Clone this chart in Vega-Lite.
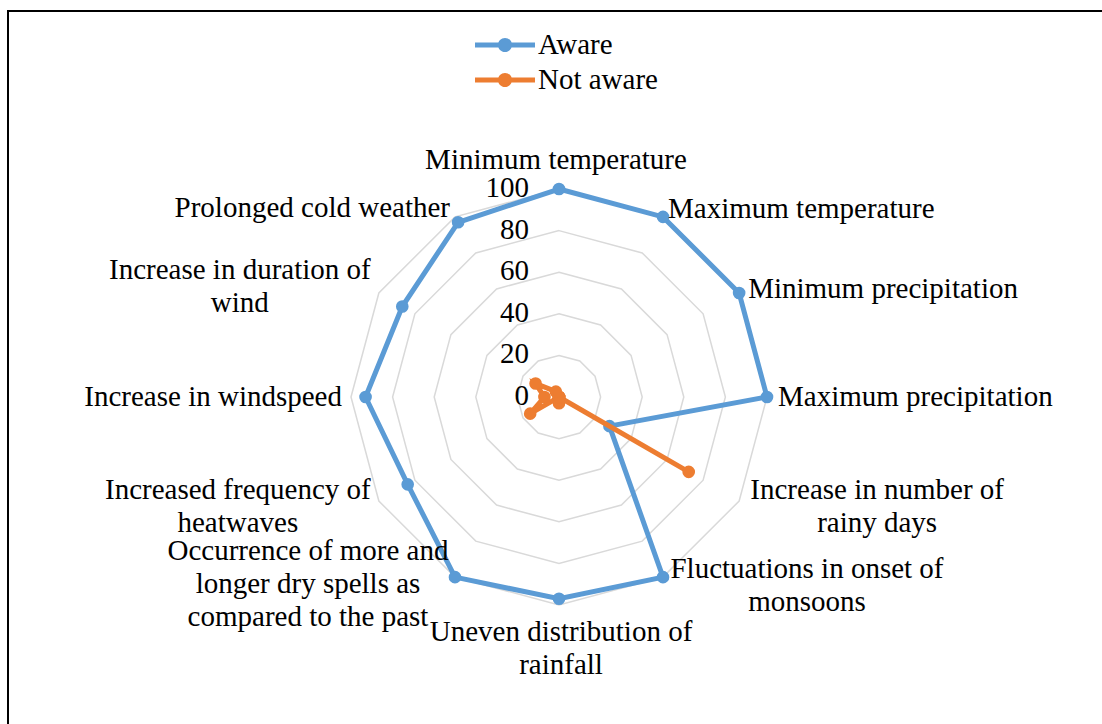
{
  "$schema": "https://vega.github.io/schema/vega-lite/v6.json",
  "width": 1098,
  "height": 717,
  "padding": {"left": 8, "top": 11, "right": -4, "bottom": -4},
  "autosize": {"type": "none"},
  "background": "white",
  "config": {"view": {"stroke": "black", "strokeWidth": 2}, "font": "Liberation Serif, Times New Roman, DejaVu Serif, serif"},
  "datasets": {
    "series": [
      {"category": "Minimum temperature", "idx": 0, "series": "Aware", "value": 100},
      {"category": "Maximum temperature", "idx": 1, "series": "Aware", "value": 100},
      {"category": "Minimum precipitation", "idx": 2, "series": "Aware", "value": 100},
      {"category": "Maximum precipitation", "idx": 3, "series": "Aware", "value": 100},
      {"category": "Increase in number of rainy days", "idx": 4, "series": "Aware", "value": 28},
      {"category": "Fluctuations in onset of monsoons", "idx": 5, "series": "Aware", "value": 100},
      {"category": "Uneven distribution of rainfall", "idx": 6, "series": "Aware", "value": 97},
      {"category": "Occurrence of more and longer dry spells as compared to the past", "idx": 7, "series": "Aware", "value": 100},
      {"category": "Increased frequency of heatwaves", "idx": 8, "series": "Aware", "value": 84},
      {"category": "Increase in windspeed", "idx": 9, "series": "Aware", "value": 93},
      {"category": "Increase in duration of wind", "idx": 10, "series": "Aware", "value": 87},
      {"category": "Prolonged cold weather", "idx": 11, "series": "Aware", "value": 97},
      {"category": "Minimum temperature", "idx": 0, "series": "Not aware", "value": 0},
      {"category": "Maximum temperature", "idx": 1, "series": "Not aware", "value": 0},
      {"category": "Minimum precipitation", "idx": 2, "series": "Not aware", "value": 0},
      {"category": "Maximum precipitation", "idx": 3, "series": "Not aware", "value": 0},
      {"category": "Increase in number of rainy days", "idx": 4, "series": "Not aware", "value": 72},
      {"category": "Fluctuations in onset of monsoons", "idx": 5, "series": "Not aware", "value": 0},
      {"category": "Uneven distribution of rainfall", "idx": 6, "series": "Not aware", "value": 3},
      {"category": "Occurrence of more and longer dry spells as compared to the past", "idx": 7, "series": "Not aware", "value": 0},
      {"category": "Increased frequency of heatwaves", "idx": 8, "series": "Not aware", "value": 16},
      {"category": "Increase in windspeed", "idx": 9, "series": "Not aware", "value": 7},
      {"category": "Increase in duration of wind", "idx": 10, "series": "Not aware", "value": 13},
      {"category": "Prolonged cold weather", "idx": 11, "series": "Not aware", "value": 3}
    ],
    "cats": [
      {"idx": 0, "label": "Minimum temperature", "rings": [20, 40, 60, 80, 100]},
      {"idx": 1, "label": "Maximum temperature", "rings": [20, 40, 60, 80, 100]},
      {"idx": 2, "label": "Minimum precipitation", "rings": [20, 40, 60, 80, 100]},
      {"idx": 3, "label": "Maximum precipitation", "rings": [20, 40, 60, 80, 100]},
      {"idx": 4, "label": "Increase in number of\nrainy days", "rings": [20, 40, 60, 80, 100]},
      {"idx": 5, "label": "Fluctuations in onset of\nmonsoons", "rings": [20, 40, 60, 80, 100]},
      {"idx": 6, "label": "Uneven distribution of\nrainfall", "rings": [20, 40, 60, 80, 100]},
      {"idx": 7, "label": "Occurrence of more and\nlonger dry spells as\ncompared to the past", "rings": [20, 40, 60, 80, 100]},
      {"idx": 8, "label": "Increased frequency of\nheatwaves", "rings": [20, 40, 60, 80, 100]},
      {"idx": 9, "label": "Increase in windspeed", "rings": [20, 40, 60, 80, 100]},
      {"idx": 10, "label": "Increase in duration of\nwind", "rings": [20, 40, 60, 80, 100]},
      {"idx": 11, "label": "Prolonged cold weather", "rings": [20, 40, 60, 80, 100]}
    ],
    "ticks": [
      {"level": 0}, {"level": 20}, {"level": 40}, {"level": 60}, {"level": 80}, {"level": 100}
    ]
  },
  "layer": [
    {
      "data": {"name": "cats"},
      "transform": [
        {"flatten": ["rings"], "as": ["ring"]},
        {"calculate": "datum.ring*sin(datum.idx*PI/6)", "as": "gx"},
        {"calculate": "datum.ring*cos(datum.idx*PI/6)", "as": "gy"}
      ],
      "mark": {"type": "line", "interpolate": "linear-closed", "stroke": "#d9d9d9", "strokeWidth": 1.5},
      "encoding": {
        "x": {"field": "gx", "type": "quantitative", "axis": null, "scale": {"domain": [-264.9, 262.98], "nice": false, "zero": false}},
        "y": {"field": "gy", "type": "quantitative", "axis": null, "scale": {"domain": [-159.13, 185.58], "nice": false, "zero": false}},
        "detail": {"field": "ring", "type": "nominal"},
        "order": {"field": "idx", "type": "quantitative"}
      }
    },
    {
      "data": {"name": "ticks"},
      "mark": {"type": "text", "align": "right", "baseline": "middle", "dx": -30, "dy": -1, "fontSize": 29, "font": "Liberation Serif, Times New Roman, DejaVu Serif, serif", "color": "black"},
      "encoding": {
        "x": {"datum": 0, "type": "quantitative", "scale": {"domain": [-264.9, 262.98], "nice": false, "zero": false}},
        "y": {"field": "level", "type": "quantitative", "scale": {"domain": [-159.13, 185.58], "nice": false, "zero": false}},
        "text": {"field": "level", "type": "quantitative"}
      }
    },
    {
      "data": {"name": "series"},
      "transform": [
        {"filter": "datum.series == 'Aware'"},
        {"calculate": "datum.value*sin(datum.idx*PI/6)", "as": "px"},
        {"calculate": "datum.value*cos(datum.idx*PI/6)", "as": "py"}
      ],
      "layer": [
        {
          "mark": {"type": "line", "interpolate": "linear-closed", "stroke": "#5B9BD5", "strokeWidth": 5},
          "encoding": {
            "x": {"field": "px", "type": "quantitative", "scale": {"domain": [-264.9, 262.98], "nice": false, "zero": false}},
            "y": {"field": "py", "type": "quantitative", "scale": {"domain": [-159.13, 185.58], "nice": false, "zero": false}},
            "order": {"field": "idx", "type": "quantitative"}
          }
        },
        {
          "mark": {"type": "point", "filled": true, "opacity": 1, "size": 160, "shape": "circle"},
          "encoding": {
            "x": {"field": "px", "type": "quantitative", "scale": {"domain": [-264.9, 262.98], "nice": false, "zero": false}},
            "y": {"field": "py", "type": "quantitative", "scale": {"domain": [-159.13, 185.58], "nice": false, "zero": false}},
            "color": {
              "field": "series", "type": "nominal",
              "scale": {"domain": ["Aware", "Not aware"], "range": ["#5B9BD5", "#ED7D31"]},
              "legend": {"orient": "none", "legendX": 482, "legendY": 19, "title": null, "padding": 0, "symbolType": "M-2,-0.17H-0.3V0.17H-2Z M0.3,-0.17H2V0.17H0.3Z M0.47,0A0.47,0.47,0,1,1,-0.47,0A0.47,0.47,0,1,1,0.47,0Z", "symbolSize": 900, "symbolStrokeWidth": 0, "symbolOpacity": 1, "labelFont": "Liberation Serif, Times New Roman, DejaVu Serif, serif", "labelFontSize": 29, "labelColor": "black", "labelOffset": 18, "rowPadding": 5}
            }
          }
        }
      ]
    },
    {
      "data": {"name": "series"},
      "transform": [
        {"filter": "datum.series == 'Not aware'"},
        {"calculate": "datum.value*sin(datum.idx*PI/6)", "as": "px"},
        {"calculate": "datum.value*cos(datum.idx*PI/6)", "as": "py"}
      ],
      "layer": [
        {
          "mark": {"type": "line", "interpolate": "linear-closed", "stroke": "#ED7D31", "strokeWidth": 5},
          "encoding": {
            "x": {"field": "px", "type": "quantitative", "scale": {"domain": [-264.9, 262.98], "nice": false, "zero": false}},
            "y": {"field": "py", "type": "quantitative", "scale": {"domain": [-159.13, 185.58], "nice": false, "zero": false}},
            "order": {"field": "idx", "type": "quantitative"}
          }
        },
        {
          "mark": {"type": "point", "filled": true, "opacity": 1, "size": 160, "shape": "circle"},
          "encoding": {
            "x": {"field": "px", "type": "quantitative", "scale": {"domain": [-264.9, 262.98], "nice": false, "zero": false}},
            "y": {"field": "py", "type": "quantitative", "scale": {"domain": [-159.13, 185.58], "nice": false, "zero": false}},
            "color": {
              "field": "series", "type": "nominal",
              "scale": {"domain": ["Aware", "Not aware"], "range": ["#5B9BD5", "#ED7D31"]},
              "legend": {"orient": "none", "legendX": 482, "legendY": 19, "title": null, "padding": 0, "symbolType": "M-2,-0.17H-0.3V0.17H-2Z M0.3,-0.17H2V0.17H0.3Z M0.47,0A0.47,0.47,0,1,1,-0.47,0A0.47,0.47,0,1,1,0.47,0Z", "symbolSize": 900, "symbolStrokeWidth": 0, "symbolOpacity": 1, "labelFont": "Liberation Serif, Times New Roman, DejaVu Serif, serif", "labelFontSize": 29, "labelColor": "black", "labelOffset": 18, "rowPadding": 5}
            }
          }
        }
      ]
    },
    {
      "data": {"name": "cats"},
      "transform": [
        {"calculate": "100*sin(datum.idx*PI/6)", "as": "lx"},
        {"calculate": "100*cos(datum.idx*PI/6)", "as": "ly"}
      ],
      "encoding": {
        "x": {"field": "lx", "type": "quantitative", "scale": {"domain": [-264.9, 262.98], "nice": false, "zero": false}},
        "y": {"field": "ly", "type": "quantitative", "scale": {"domain": [-159.13, 185.58], "nice": false, "zero": false}},
        "text": {"field": "label", "type": "nominal"}
      },
      "layer": [
        {"transform": [{"filter": "datum.idx == 0"}], "mark": {"type": "text", "align": "center", "baseline": "middle", "dx": -3, "dy": -29, "fontSize": 29, "font": "Liberation Serif, Times New Roman, DejaVu Serif, serif", "color": "black", "lineBreak": "\n", "lineHeight": 33}},
        {"transform": [{"filter": "datum.idx == 1"}], "mark": {"type": "text", "align": "left", "baseline": "middle", "dx": 5, "dy": -8, "fontSize": 29, "font": "Liberation Serif, Times New Roman, DejaVu Serif, serif", "color": "black", "lineBreak": "\n", "lineHeight": 33}},
        {"transform": [{"filter": "datum.idx == 2"}], "mark": {"type": "text", "align": "left", "baseline": "middle", "dx": 9, "dy": -4, "fontSize": 29, "font": "Liberation Serif, Times New Roman, DejaVu Serif, serif", "color": "black", "lineBreak": "\n", "lineHeight": 33}},
        {"transform": [{"filter": "datum.idx == 3"}], "mark": {"type": "text", "align": "left", "baseline": "middle", "dx": 11, "dy": 0, "fontSize": 29, "font": "Liberation Serif, Times New Roman, DejaVu Serif, serif", "color": "black", "lineBreak": "\n", "lineHeight": 33}},
        {"transform": [{"filter": "datum.idx == 4"}], "mark": {"type": "text", "align": "center", "baseline": "middle", "dx": 138, "dy": -11, "fontSize": 29, "font": "Liberation Serif, Times New Roman, DejaVu Serif, serif", "color": "black", "lineBreak": "\n", "lineHeight": 33}},
        {"transform": [{"filter": "datum.idx == 5"}], "mark": {"type": "text", "align": "center", "baseline": "middle", "dx": 144, "dy": -8, "fontSize": 29, "font": "Liberation Serif, Times New Roman, DejaVu Serif, serif", "color": "black", "lineBreak": "\n", "lineHeight": 33}},
        {"transform": [{"filter": "datum.idx == 6"}], "mark": {"type": "text", "align": "center", "baseline": "middle", "dx": 2, "dy": 27, "fontSize": 29, "font": "Liberation Serif, Times New Roman, DejaVu Serif, serif", "color": "black", "lineBreak": "\n", "lineHeight": 33}},
        {"transform": [{"filter": "datum.idx == 7"}], "mark": {"type": "text", "align": "center", "baseline": "middle", "dx": -147, "dy": -26, "fontSize": 29, "font": "Liberation Serif, Times New Roman, DejaVu Serif, serif", "color": "black", "lineBreak": "\n", "lineHeight": 33}},
        {"transform": [{"filter": "datum.idx == 8"}], "mark": {"type": "text", "align": "center", "baseline": "middle", "dx": -141, "dy": -11, "fontSize": 29, "font": "Liberation Serif, Times New Roman, DejaVu Serif, serif", "color": "black", "lineBreak": "\n", "lineHeight": 33}},
        {"transform": [{"filter": "datum.idx == 9"}], "mark": {"type": "text", "align": "right", "baseline": "middle", "dx": -9, "dy": 0, "fontSize": 29, "font": "Liberation Serif, Times New Roman, DejaVu Serif, serif", "color": "black", "lineBreak": "\n", "lineHeight": 33}},
        {"transform": [{"filter": "datum.idx == 10"}], "mark": {"type": "text", "align": "center", "baseline": "middle", "dx": -139, "dy": -23, "fontSize": 29, "font": "Liberation Serif, Times New Roman, DejaVu Serif, serif", "color": "black", "lineBreak": "\n", "lineHeight": 33}},
        {"transform": [{"filter": "datum.idx == 11"}], "mark": {"type": "text", "align": "right", "baseline": "middle", "dx": -5, "dy": -9, "fontSize": 29, "font": "Liberation Serif, Times New Roman, DejaVu Serif, serif", "color": "black", "lineBreak": "\n", "lineHeight": 33}}
      ]
    }
  ]
}
